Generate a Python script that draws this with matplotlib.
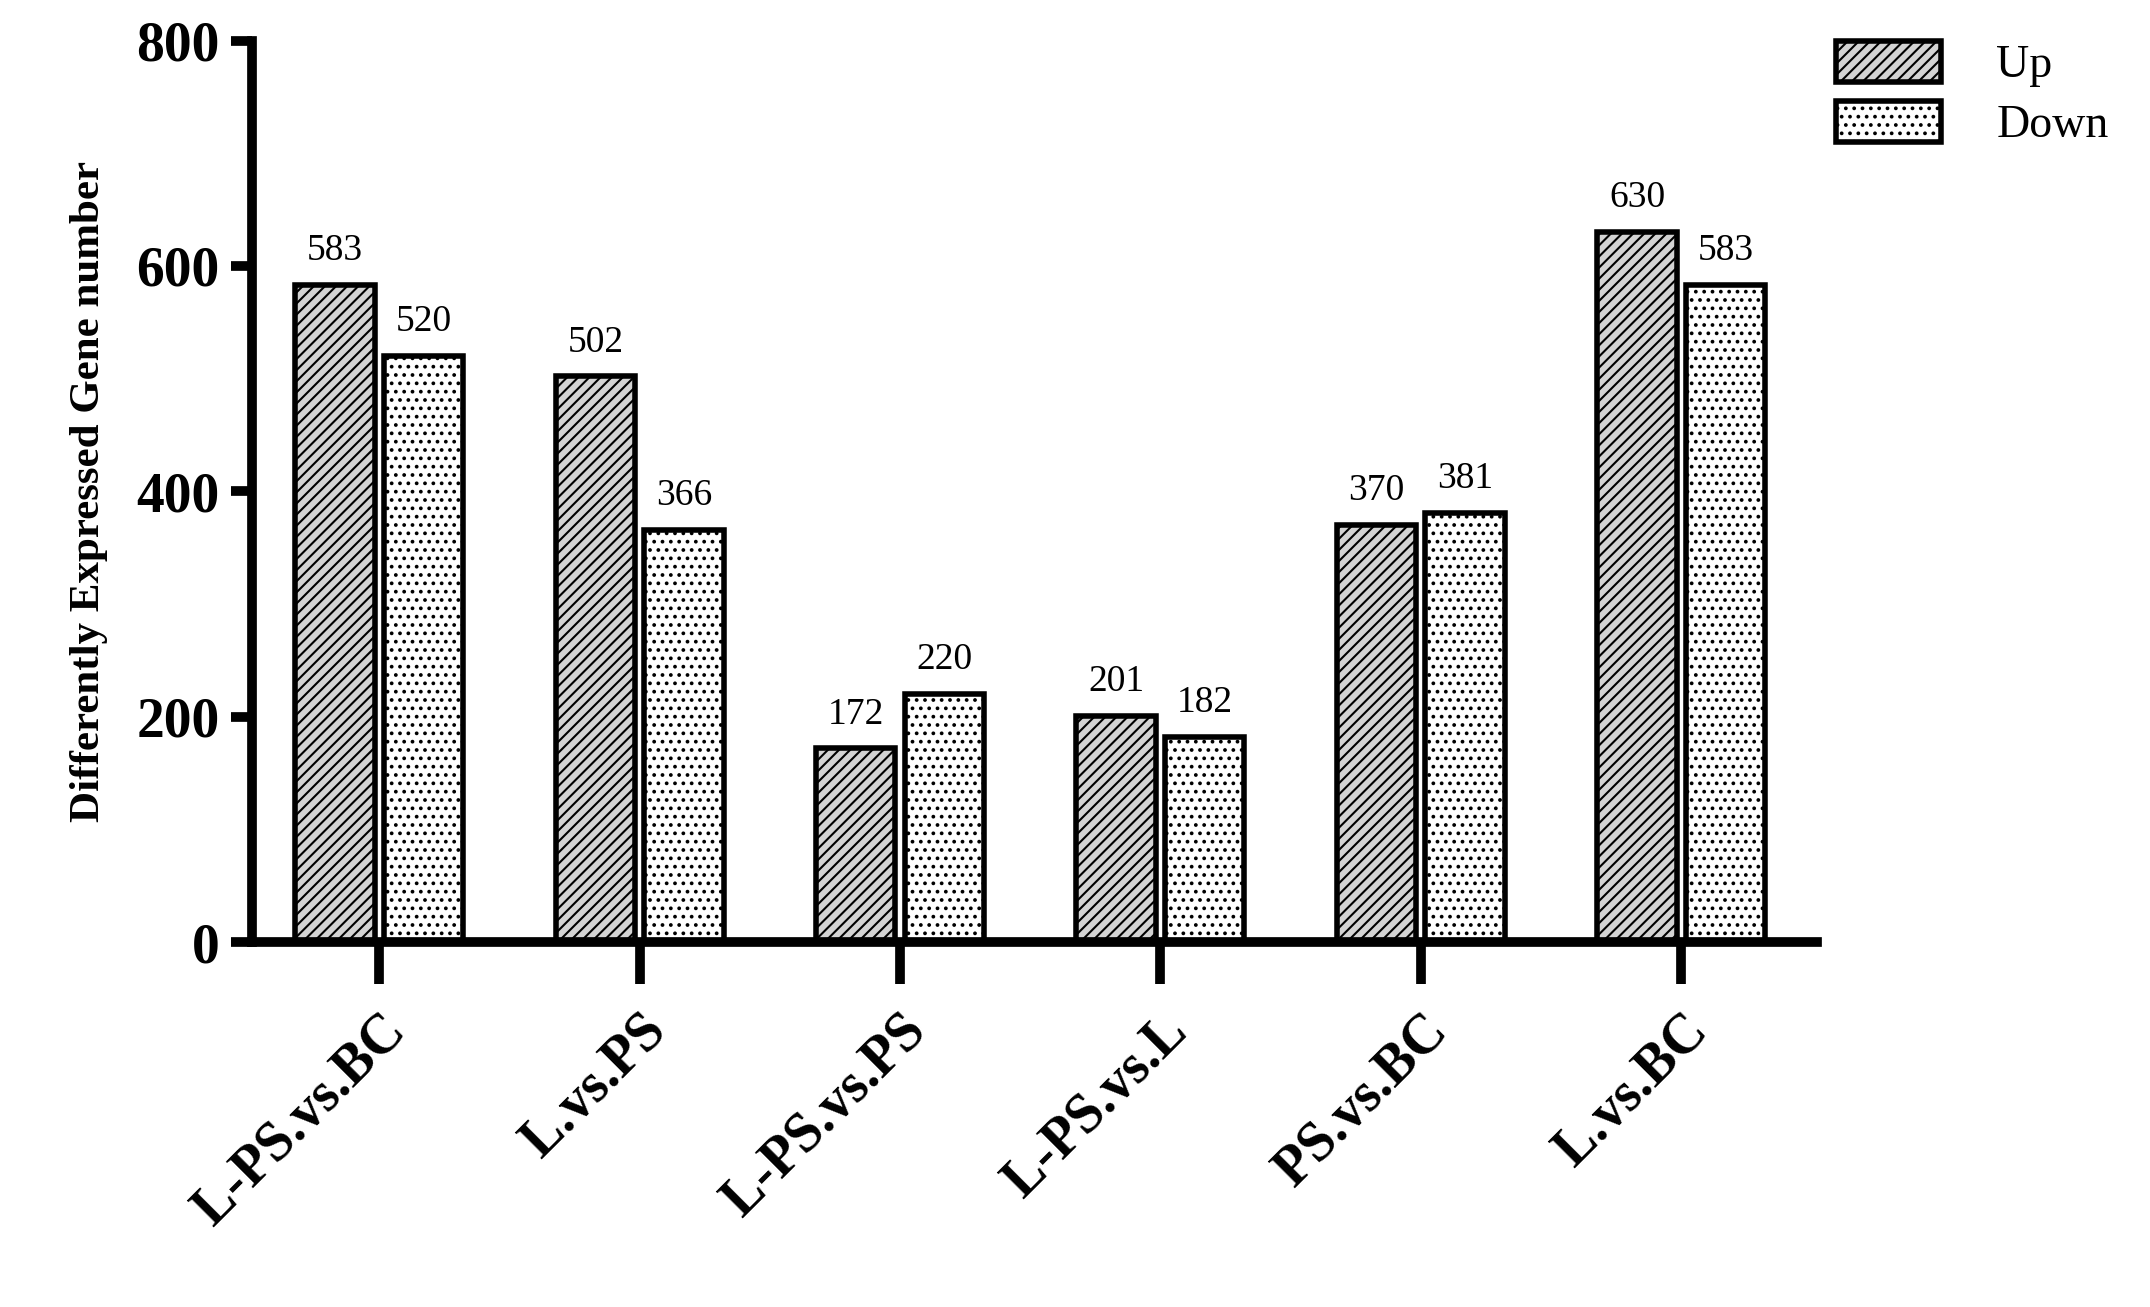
import matplotlib
matplotlib.use("Agg")
import matplotlib.pyplot as plt
import numpy as np

categories = ["L-PS.vs.BC", "L.vs.PS", "L-PS.vs.PS", "L-PS.vs.L", "PS.vs.BC", "L.vs.BC"]
up = [583, 502, 172, 201, 370, 630]
down = [520, 366, 220, 182, 381, 583]
yticks = [0, 200, 400, 600, 800]

plt.rcParams['font.family'] = ['Liberation Serif', 'DejaVu Serif']
plt.rcParams['hatch.linewidth'] = 1.5
fig = plt.figure(figsize=(21.5, 13.07), dpi=100)
ax = fig.add_axes([0.117, 0.279, 0.728, 0.69])
x = np.arange(len(categories))
w = 0.305
lw = 4
b1 = ax.bar(x - 0.17, up, w, color="#d3d3d3", edgecolor="black", hatch="///", linewidth=lw, label="Up")
b2 = ax.bar(x + 0.17, down, w, color="white", edgecolor="black", hatch="..", linewidth=lw, label="Down")
for xi, v in zip(x - 0.17, up):
    ax.text(xi, v + 15, str(v), ha="center", va="bottom", fontsize=27)
for xi, v in zip(x + 0.17, down):
    ax.text(xi, v + 15, str(v), ha="center", va="bottom", fontsize=27)
ax.set_xlim(-0.49, 5.52)
ax.set_ylim(0, 800)
ax.set_yticks(yticks)
ax.set_yticklabels([str(t) for t in yticks], fontsize=40, fontweight="bold")
ax.set_xticks(x)
ax.set_xticklabels(categories, rotation=45, ha="right", rotation_mode="anchor", fontsize=40, fontweight="bold")
ax.tick_params(axis="x", length=30, width=7, pad=15)
ax.tick_params(axis="y", length=15, width=7, pad=8)
for s in ["top", "right"]:
    ax.spines[s].set_visible(False)
for s in ["left", "bottom"]:
    ax.spines[s].set_linewidth(7)
ax.set_ylabel("Differently Expressed Gene number", fontsize=31, fontweight="bold", labelpad=20)
fig.legend(handles=[b1, b2], loc="upper right", bbox_to_anchor=(1.0, 1.0), frameon=False,
           fontsize=33, handlelength=2.3, handleheight=1.0, handletextpad=1.2, labelspacing=0.3)
fig.savefig("out.png", dpi=100)
